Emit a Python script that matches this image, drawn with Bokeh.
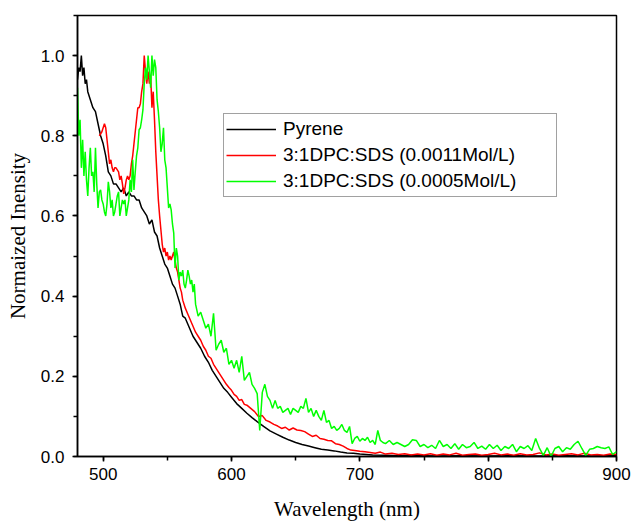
from bokeh.plotting import figure
from bokeh.models import (Range1d, SingleIntervalTicker, NumeralTickFormatter,
                          Legend, LegendItem)
from bokeh.embed import file_html
from bokeh.resources import INLINE

# ---------------- data ----------------
wl_pyrene = ([480, 481, 482, 483, 484, 485, 486, 487, 488]
             + list(range(490, 571, 2))
             + [573, 576, 579, 582, 585, 588, 591, 594, 597, 600]
             + [604, 608, 612, 616, 620]
             + list(range(625, 711, 5))
             + [720, 730, 740, 750, 760]
             + [780, 800, 820, 840, 860, 880, 900])
int_pyrene = ([0.94, 0.97, 0.96, 1.00, 0.95, 0.97, 0.93, 0.94, 0.91]
              + [0.89, 0.87, 0.86, 0.83, 0.80,
                 0.78, 0.75, 0.71, 0.70, 0.68, 0.68, 0.67, 0.66, 0.67, 0.65,
                 0.66, 0.65, 0.65, 0.64, 0.64, 0.62, 0.61, 0.60, 0.58, 0.59,
                 0.56, 0.55, 0.52, 0.50, 0.48, 0.47, 0.45, 0.43, 0.42, 0.40,
                 0.38, 0.35, 0.345, 0.33, 0.315, 0.30]
              + [0.285, 0.27, 0.25, 0.235, 0.215, 0.20, 0.185, 0.17, 0.16, 0.148]
              + [0.132, 0.12, 0.108, 0.097, 0.087]
              + [0.075, 0.064, 0.056, 0.048, 0.041, 0.035, 0.030, 0.026, 0.022,
                 0.018, 0.016, 0.014, 0.011, 0.009, 0.008, 0.006, 0.005, 0.004]
              + [0.003, 0.002, 0.003, 0.002, 0.001]
              + [0.002, 0.001, 0.002, 0.001, 0.002, 0.001, 0.002])

wl_dpc_0011 = ([497, 499, 501, 502, 503, 504, 505, 506, 507, 508, 509, 510]
               + list(range(512, 563))
               + list(range(564, 613, 2))
               + list(range(615, 697, 3))
               + [700, 704, 708, 712, 716, 720, 725, 730, 735, 740, 745]
               + list(range(750, 901, 5)))
int_dpc_0011 = ([0.80, 0.81, 0.83, 0.82, 0.79, 0.76, 0.73, 0.74, 0.72, 0.71, 0.72, 0.72]
                + [0.71, 0.69, 0.70, 0.68, 0.655, 0.67, 0.69, 0.70, 0.69, 0.70,
                   0.73, 0.75, 0.78, 0.81, 0.84, 0.87, 0.87, 0.88, 0.91, 0.93,
                   1.00, 0.96, 0.93, 0.96, 0.93, 0.95, 0.87, 0.91, 0.84, 0.76,
                   0.70, 0.64, 0.60, 0.565, 0.53, 0.51, 0.52, 0.50, 0.51, 0.49,
                   0.50, 0.49, 0.50, 0.51, 0.49, 0.47, 0.46, 0.44, 0.42, 0.41,
                   0.39]
                + [0.37, 0.355, 0.34, 0.325, 0.31, 0.30, 0.29, 0.275, 0.265, 0.25,
                   0.245, 0.23, 0.22, 0.21, 0.20, 0.19, 0.18, 0.172, 0.165, 0.155,
                   0.15, 0.14, 0.142, 0.13, 0.128]
                + [0.12, 0.112, 0.10, 0.102, 0.09, 0.086, 0.08, 0.076, 0.07, 0.073,
                   0.066, 0.071, 0.066, 0.065, 0.062, 0.056, 0.05, 0.053, 0.045, 0.043,
                   0.04, 0.039, 0.032, 0.03, 0.026, 0.02, 0.016, 0.015]
                + [0.013, 0.012, 0.010, 0.008, 0.011, 0.006, 0.008, 0.005, 0.007, 0.004, 0.006]
                + [0.004, 0.007, 0.003, 0.006, 0.004, 0.008, 0.003, 0.005, 0.006, 0.003,
                   0.005, 0.008, 0.004, 0.006, 0.003, 0.007, 0.004, 0.005, 0.009, 0.004,
                   0.006, 0.003, 0.005, 0.007, 0.004, 0.008, 0.004, 0.005, 0.003, 0.006,
                   0.005])

wl_dpc_0005 = (list(range(480, 573))
               + list(range(574, 721, 2))
               + list(range(723, 901, 3)))
int_dpc_0005 = ([0.92, 0.80, 0.84, 0.72, 0.79, 0.70, 0.76, 0.69, 0.65, 0.72,
                 0.77, 0.70, 0.71, 0.66, 0.77, 0.68, 0.62, 0.66, 0.665, 0.64,
                 0.63, 0.61, 0.60, 0.63, 0.685, 0.66, 0.62, 0.64, 0.60, 0.61,
                 0.63, 0.65, 0.66, 0.60, 0.62, 0.64, 0.63, 0.64, 0.60, 0.62,
                 0.64, 0.69, 0.66, 0.74, 0.665, 0.71, 0.75, 0.77, 0.815, 0.82,
                 0.84, 0.865, 0.93, 0.97, 0.94, 1.00, 0.96, 0.92, 1.00, 0.95,
                 0.99, 0.97, 0.89, 0.86, 0.82, 0.76, 0.78, 0.82, 0.74, 0.72,
                 0.67, 0.62, 0.63, 0.615, 0.58, 0.557, 0.47, 0.52, 0.50, 0.44,
                 0.46, 0.45, 0.465, 0.43, 0.42, 0.44, 0.465, 0.45, 0.43, 0.44,
                 0.41, 0.43, 0.38]
                + [0.35, 0.36, 0.34, 0.32, 0.33, 0.30, 0.357, 0.265, 0.28, 0.29,
                   0.26, 0.27, 0.23, 0.24, 0.22, 0.24, 0.21, 0.25, 0.19, 0.20,
                   0.21, 0.18, 0.17, 0.157, 0.065, 0.16, 0.18, 0.15, 0.14, 0.12,
                   0.14, 0.12, 0.125, 0.11, 0.115, 0.12, 0.105, 0.12, 0.115, 0.11,
                   0.125, 0.12, 0.145, 0.11, 0.12, 0.10, 0.115, 0.10, 0.09, 0.115,
                   0.085, 0.09, 0.07, 0.075, 0.065, 0.07, 0.08, 0.065, 0.06, 0.075,
                   0.032, 0.045, 0.05, 0.038, 0.045, 0.04, 0.048, 0.035, 0.04, 0.03,
                   0.065, 0.04, 0.035, 0.032]
                + [0.04, 0.03, 0.035, 0.03, 0.025, 0.03, 0.042, 0.04, 0.025, 0.03,
                   0.022, 0.028, 0.02, 0.04, 0.025, 0.03, 0.02, 0.032, 0.018, 0.03,
                   0.022, 0.025, 0.035, 0.02, 0.026, 0.018, 0.03, 0.02, 0.028, 0.015,
                   0.025, 0.02, 0.03, 0.012, 0.025, 0.02, 0.027, 0.015, 0.045, 0.02,
                   0.003, 0.022, 0.0, 0.02, 0.025, 0.012, 0.022, 0.018, 0.03, 0.038,
                   0.02, 0.003, 0.018, 0.02, 0.025, 0.022, 0.02, 0.024, 0.005, 0.012])

labels = ["Pyrene", "3:1DPC:SDS (0.0011Mol/L)", "3:1DPC:SDS (0.0005Mol/L)"]
colors = ["#000000", "#FF0000", "#00FF00"]

x_ticks_interval = 100
y_ticks_interval = 0.2

assert len(wl_pyrene) == len(int_pyrene)
assert len(wl_dpc_0011) == len(int_dpc_0011)
assert len(wl_dpc_0005) == len(int_dpc_0005)

# ---------------- figure ----------------
p = figure(width=633, height=524, output_backend="svg", toolbar_location=None,
           x_range=Range1d(480, 900), y_range=Range1d(0, 1.1),
           min_border_left=77, min_border_right=17,
           min_border_top=15, min_border_bottom=68,
           background_fill_color="white", border_fill_color="white")

p.xgrid.visible = False
p.ygrid.visible = False
p.outline_line_color = "black"
p.outline_line_width = 1.5
p.outline_line_alpha = 1.0

p.xaxis.ticker = SingleIntervalTicker(interval=x_ticks_interval, num_minor_ticks=2)
p.yaxis.ticker = SingleIntervalTicker(interval=y_ticks_interval, num_minor_ticks=2)
p.yaxis.formatter = NumeralTickFormatter(format="0.0")

for ax in (p.xaxis, p.yaxis):
    ax.axis_line_width = 1.5
    ax.axis_line_color = "black"
    ax.major_tick_in = 0
    ax.major_tick_out = 5
    ax.minor_tick_in = 0
    ax.minor_tick_out = 4
    ax.major_tick_line_width = 1.5
    ax.minor_tick_line_width = 1.5
    ax.major_tick_line_color = "black"
    ax.minor_tick_line_color = "black"
    ax.major_label_text_font = "Liberation Sans"
    ax.major_label_text_font_size = "17px"
    ax.major_label_text_color = "black"
    ax.axis_label_text_font = "Liberation Serif"
    ax.axis_label_text_font_size = "21px"
    ax.axis_label_text_font_style = "normal"
    ax.axis_label_text_color = "black"

p.xaxis.axis_label = "Wavelength (nm)"
p.yaxis.axis_label = "Normaized Inensity"
p.xaxis.major_label_standoff = 6
p.xaxis.axis_label_standoff = 14
p.yaxis.major_label_standoff = 8
p.yaxis.axis_label_standoff = 8

r1 = p.line(wl_pyrene, int_pyrene, line_color=colors[0], line_width=1.5)
r2 = p.line(wl_dpc_0011, int_dpc_0011, line_color=colors[1], line_width=1.5)
r3 = p.line(wl_dpc_0005, int_dpc_0005, line_color=colors[2], line_width=1.5)

legend = Legend(items=[LegendItem(label=labels[0], renderers=[r1]),
                       LegendItem(label=labels[1], renderers=[r2]),
                       LegendItem(label=labels[2], renderers=[r3])],
                location=(146, 259), margin=0, padding=2, spacing=0,
                glyph_width=50, glyph_height=26, label_height=26,
                label_width=271, label_standoff=7,
                label_text_font="Liberation Sans", label_text_font_size="19px",
                label_text_color="black",
                border_line_color="#444444", border_line_width=1.5,
                background_fill_color="white", background_fill_alpha=1.0)
p.add_layout(legend)

open("out.html", "w").write(file_html(p, INLINE))
